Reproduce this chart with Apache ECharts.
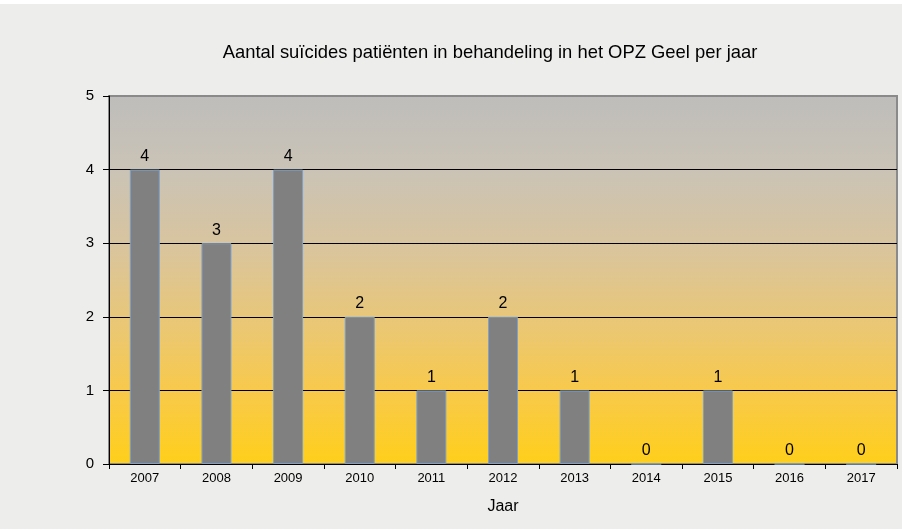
<!DOCTYPE html>
<html><head><meta charset="utf-8">
<script src="https://cdn.jsdelivr.net/npm/echarts@6/dist/echarts.min.js"></script>
<style>html,body{margin:0;padding:0;background:#fff}#c{width:905px;height:529px}</style>
</head><body><div id="c"></div>
<script>
const categories = ['2007','2008','2009','2010','2011','2012','2013','2014','2015','2016','2017'];
const values = [4,3,4,2,1,2,1,0,1,0,0];
const yTicks = [0,1,2,3,4,5];
const titleText = 'Aantal suïcides patiënten in behandeling in het OPZ Geel per jaar';
const xName = 'Jaar';

const chart = echarts.init(document.getElementById('c'));
const font = 'Liberation Sans, Arial, sans-serif';
chart.setOption({
  animation: false,
  backgroundColor: '#fff',
  graphic: [{type:'rect', z:-10, shape:{x:0,y:4,width:902,height:525}, style:{fill:'#edeeeb'}, silent:true}],
  title: {text: titleText, left: 485, textAlign: 'center', top: 39,
    textStyle: {fontFamily: font, fontSize: 18.4, fontWeight: 'normal', color: '#000'}},
  grid: {left: 109, right: 8, top: 96, bottom: 65, show: true,
    borderColor: '#8a8a8a', borderWidth: 2,
    backgroundColor: new echarts.graphic.LinearGradient(0,0,0,1,[
      {offset:0, color:'#bebdbb'},
      {offset:0.2, color:'#cac3b6'},
      {offset:0.4, color:'#d8c49f'},
      {offset:0.6, color:'#e8c77a'},
      {offset:0.8, color:'#f8c94b'},
      {offset:1, color:'#ffcf1a'}])},
  xAxis: {type:'category', data: categories, name: xName, nameLocation:'middle', nameGap: 35,
    nameTextStyle:{fontFamily:font, fontSize:16, color:'#000'},
    axisLine:{lineStyle:{color:'#000', width:1}},
    axisTick:{show:true, length:5, lineStyle:{color:'#000'}},
    axisLabel:{fontFamily:font, fontSize:13, color:'#000', margin:8}},
  yAxis: {type:'value', min: yTicks[0], max: yTicks[yTicks.length-1], interval: 1,
    axisLine:{show:true, lineStyle:{color:'#000', width:1}},
    axisTick:{show:true, length:6, lineStyle:{color:'#000'}},
    axisLabel:{fontFamily:font, fontSize:15, color:'#000', margin:15},
    splitLine:{show:true, lineStyle:{color:['#000','#000','#000','#000','#000','rgba(0,0,0,0)'], width:1}}},
  series: [{type:'bar', data: values, barWidth: 30,
    itemStyle:{color:'#808080', borderColor:'#7fa0c8', borderWidth:1},
    label:{show:true, position:'top', distance:5, fontFamily:font, fontSize:16, color:'#000'}}]
});
</script></body></html>
